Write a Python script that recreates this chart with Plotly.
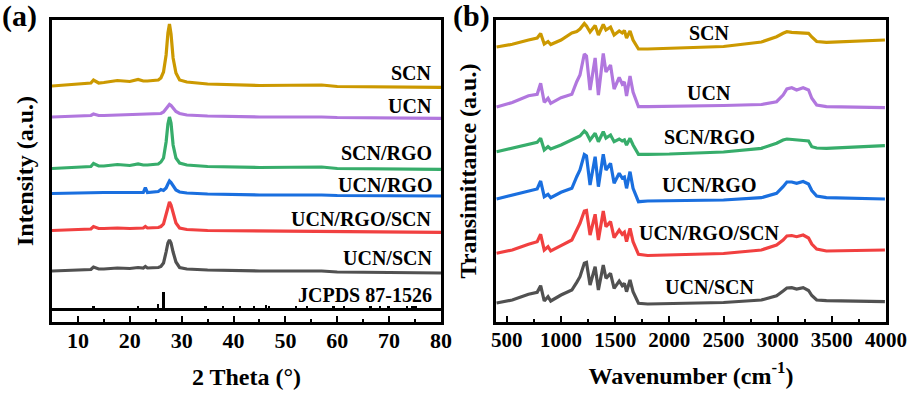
import plotly.graph_objects as go

SERIF = "Liberation Serif, Times New Roman, serif"

# ---------------- (a) XRD data (stacked intensity, a.u.) ----------------
XRD_2THETA = [5, 10, 12.5, 13, 14, 15, 17.6, 20, 21.6, 22.6, 23, 23.4, 25.5, 26, 26.5,
              27.0, 27.35, 27.65, 27.95, 28.35, 28.9, 29.6, 31, 35, 45, 57, 60, 80]
XRD_SCN = [237, 239, 240, 243, 240, 240.5, 242.5, 241.5, 243.5, 242, 242, 242, 243, 245, 251,
           268, 290, 299, 289, 265, 250, 243, 241, 239, 237.5, 238, 236.5, 235.7]
XRD_UCN = [206, 207, 207.5, 209, 207.5, 207.5, 208, 208, 208.5, 208.5, 208.5, 208.5, 209, 209.5, 211,
           214, 217, 218.5, 217.5, 215, 211.5, 209.5, 208, 207, 206, 206, 205.5, 204.7]
XRD_SCN_RGO = [154.5, 156, 156.5, 159.5, 157, 157, 158.5, 157.5, 159, 158, 158, 158, 159, 161, 165,
               181, 199, 206, 200, 178, 165, 160, 158, 156.5, 155.5, 156, 154.5, 153.7]
XRD_UCN_RGO = [129.5, 130, 130.5, 131, 130.5, 130.5, 130.5, 130.5, 130.5, 130.5, 135.5, 130.5, 131.5, 133.5, 132.5,
               135, 139, 142, 140.5, 137, 133, 131, 130, 129, 128, 128, 127.5, 127]
XRD_UCN_RGO_SCN = [92.5, 93.5, 94, 96.5, 94.5, 94.5, 95, 94.5, 95, 95, 96.5, 95, 95.5, 96.5, 99,
                   109, 117, 121, 118, 110, 100, 95, 93.5, 92.5, 92, 92, 91.5, 90.7]
XRD_UCN_SCN = [52, 53, 53.5, 56, 54, 54, 55, 54.5, 55.5, 55, 56.5, 55, 55.5, 56.5, 60,
               71, 80, 83, 80, 71, 61, 55.5, 54, 53, 52, 52, 51, 50]

JCPDS_POS = [13.0, 21.6, 25.4, 26.5, 34.6, 38.0, 41.3, 43.9, 46.2, 46.8, 52.1, 54.2,
             59.3, 61.3, 66.4, 68.3, 69.9, 73.5, 74.5, 75.1]
JCPDS_H = [3.5, 4, 5.5, 17.5, 3.5, 3.5, 3.5, 4, 5, 4, 4, 4,
           3.5, 3.5, 3.5, 4, 3.5, 4, 4, 3.5]
JCPDS_BASE = 13.5
XRD_RANGE = [5, 80]

# ---------------- (b) FTIR data (stacked transmittance, a.u.) ----------------
FTIR_WN = [405, 550, 700, 780, 812, 845, 880, 905, 1000, 1100, 1145, 1175, 1215, 1235, 1268,
           1315, 1345, 1390, 1415, 1457, 1490, 1537, 1565, 1585, 1605, 1637, 1665, 1715, 1800,
           2000, 2500, 2850, 2990, 3050, 3085, 3130, 3175, 3235, 3285, 3315, 3360, 3450, 3700, 3990]
FTIR_SCN = [275, 277.7, 282, 284, 288.5, 278, 280.5, 277.5, 282, 289, 290.5, 293, 298.5, 296, 290,
            296.5, 287, 297.5, 292, 295, 287, 291, 289, 291.5, 284, 291, 282, 273, 273,
            273.5, 275.5, 280, 285.3, 288.7, 290.3, 289.7, 289.5, 289, 288.7, 285, 280.5, 279.7, 280.5, 282]
FTIR_UCN = [215, 219.5, 226.3, 227.7, 238.7, 219.7, 223.7, 218.7, 224.3, 227.7, 240.3, 247, 268, 266, 232,
            264, 227, 268.5, 250, 257, 233, 244.5, 238, 240, 226, 246, 230, 215.3, 215.3,
            215.5, 216.5, 217.5, 220.3, 227, 233, 234.3, 232, 234.3, 232, 223.7, 217, 215.3, 214.8, 214.3]
FTIR_SCN_RGO = [170.3, 174, 177.7, 179.7, 183.7, 172, 175.3, 173, 177, 182, 184.5, 186, 191, 189, 182,
                188.7, 180.3, 190.3, 184, 187, 180.3, 183, 181, 182, 177, 183.7, 177, 167.7, 167.7,
                168, 170, 173.7, 178.7, 182, 183, 182.5, 182, 181, 181, 175.3, 174, 173.7, 175, 176.3]
FTIR_UCN_RGO = [123, 127, 131, 133, 141, 125.3, 127.7, 124.3, 129.7, 133.7, 145.3, 152, 167.5, 166, 137,
                165.3, 135.3, 167.7, 152, 158.7, 138.7, 148.7, 144, 145, 133.7, 150.3, 133.7, 120.3, 121,
                121.5, 122, 124.3, 128.7, 135.3, 140, 140, 138.7, 140.5, 138, 131.5, 126, 124.3, 123.5, 123]
FTIR_UCN_RGO_SCN = [68.7, 72, 77.7, 80.3, 87.7, 72, 75.3, 71, 76.3, 82, 92, 98.7, 111, 111.5, 87,
                    107.7, 82, 111, 95.3, 100.3, 84.3, 92, 87.7, 89.7, 80.3, 93.7, 80.3, 67.7, 66.5,
                    67, 68.5, 72, 77, 82, 86, 86.5, 85.3, 87, 84, 78, 73, 71, 71.5, 72]
FTIR_UCN_SCN = [19, 22, 27.7, 29.7, 36.3, 21, 25.3, 21, 27, 32, 39.7, 45.3, 58.7, 59.5, 37,
                55.3, 32, 57, 43.7, 48.7, 33.7, 41, 36.3, 38.7, 30.3, 42, 30.3, 18.7, 18,
                18.5, 19.5, 22, 26.3, 31, 34, 34.3, 33, 34.3, 31.5, 26.5, 22, 21.3, 20.5, 20.3]

SAMPLES = ["SCN", "UCN", "SCN/RGO", "UCN/RGO", "UCN/RGO/SCN", "UCN/SCN"]
COLORS = ["#CC9900", "#B177DE", "#37AD6B", "#1A6FDF", "#F14040", "#515151"]
XRD_SERIES = [XRD_SCN, XRD_UCN, XRD_SCN_RGO, XRD_UCN_RGO, XRD_UCN_RGO_SCN, XRD_UCN_SCN]
FTIR_SERIES = [FTIR_SCN, FTIR_UCN, FTIR_SCN_RGO, FTIR_UCN_RGO, FTIR_UCN_RGO_SCN, FTIR_UCN_SCN]

# label positions (layout)
XRD_LABEL_Y = [250, 217, 170, 138, 104, 65]
FTIR_LABEL_Y = [289, 229, 185, 137, 89, 35]

fig = go.Figure()

for name, col, ys in zip(SAMPLES, COLORS, XRD_SERIES):
    fig.add_trace(go.Scatter(x=XRD_2THETA, y=ys, mode="lines", name=name,
                             line=dict(color=col, width=3.2), xaxis="x", yaxis="y",
                             showlegend=False))

fig.add_trace(go.Scatter(x=XRD_RANGE, y=[JCPDS_BASE, JCPDS_BASE], mode="lines",
                         line=dict(color="black", width=3), xaxis="x", yaxis="y",
                         showlegend=False))
fig.add_trace(go.Bar(x=JCPDS_POS, y=JCPDS_H, base=JCPDS_BASE, width=0.45,
                     marker=dict(color="black", line=dict(width=0)), xaxis="x", yaxis="y",
                     showlegend=False))

for name, col, ys in zip(SAMPLES, COLORS, FTIR_SERIES):
    fig.add_trace(go.Scatter(x=FTIR_WN, y=ys, mode="lines", name=name,
                             line=dict(color=col, width=3.2), xaxis="x2", yaxis="y2",
                             showlegend=False))

lab_font = dict(family=SERIF, size=20, color="black", weight="bold")
annotations = []
for name, yv in zip(SAMPLES, XRD_LABEL_Y):
    annotations.append(dict(x=78.6, y=yv, xref="x", yref="y", text=name, showarrow=False,
                            xanchor="right", yanchor="middle", font=lab_font))
annotations.append(dict(x=78.6, y=28, xref="x", yref="y", text="JCPDS 87-1526", showarrow=False,
                        xanchor="right", yanchor="middle", font=lab_font))
for name, yv in zip(SAMPLES, FTIR_LABEL_Y):
    annotations.append(dict(x=2370, y=yv, xref="x2", yref="y2", text=name, showarrow=False,
                            xanchor="center", yanchor="middle", font=lab_font))
panel_font = dict(family=SERIF, size=30, color="black", weight="bold")
annotations.append(dict(x=-0.0384, y=1.013, xref="paper", yref="paper", text="(a)", showarrow=False,
                        xanchor="center", yanchor="middle", font=panel_font))
annotations.append(dict(x=0.5024, y=1.013, xref="paper", yref="paper", text="(b)", showarrow=False,
                        xanchor="center", yanchor="middle", font=panel_font))

title_font = dict(family=SERIF, size=24, color="black", weight="bold")

xcommon = dict(showline=True, linewidth=3, linecolor="black", mirror=True,
               ticks="inside", ticklen=6, tickwidth=2, tickcolor="black",
               showgrid=False, zeroline=False, automargin=False, ticklabelstandoff=-3)
ycommon = dict(showline=True, linewidth=3, linecolor="black", mirror=True,
               ticks="", showticklabels=False, showgrid=False, zeroline=False, automargin=False)

fig.update_layout(
    width=913, height=399,
    margin=dict(l=52, r=27, t=20, b=77, autoexpand=False),
    paper_bgcolor="white", plot_bgcolor="white",
    xaxis=dict(domain=[0, 0.4664], range=XRD_RANGE, dtick=10, tick0=0, anchor="y",
               tickfont=dict(family=SERIF, size=22, color="black", weight="bold"),
               minor=dict(ticks="inside", ticklen=3, tickwidth=2, tickcolor="black", dtick=5, tick0=0),
               title=dict(text="2 Theta (°)", font=title_font, standoff=16), **xcommon),
    yaxis=dict(domain=[0, 1], range=[1, 303], anchor="x",
               title=dict(text="Intensity (a.u.)", font=title_font, standoff=9), **ycommon),
    xaxis2=dict(domain=[0.5324, 1], range=[400, 4000], dtick=500, tick0=0, anchor="y2",
                tickfont=dict(family=SERIF, size=21, color="black", weight="bold"),
                minor=dict(ticks="inside", ticklen=3, tickwidth=2, tickcolor="black", dtick=250, tick0=0),
                title=dict(text="Wavenumber (cm<sup>-1</sup>)", font=title_font, standoff=16), **xcommon),
    yaxis2=dict(domain=[0, 1], range=[0, 302], anchor="x2",
                title=dict(text="Transimittance (a.u.)", font=title_font, standoff=10), **ycommon),
    annotations=annotations,
    bargap=0,
)

fig.write_html("out.html", config={"displayModeBar": False},
               post_script="document.body.style.margin='0';document.body.style.overflow='hidden';")
